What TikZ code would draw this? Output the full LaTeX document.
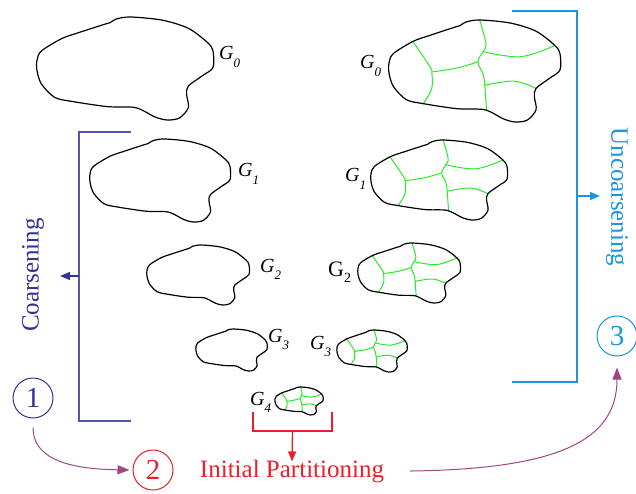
\documentclass[tikz,border=0pt]{standalone}
\usepackage{fontspec}
\setmainfont{Liberation Serif}
\usetikzlibrary{arrows.meta}
\definecolor{cblue}{RGB}{50,50,150}
\definecolor{cbline}{RGB}{85,85,170}
\definecolor{ccyan}{RGB}{25,150,220}
\definecolor{cred}{RGB}{237,30,40}
\definecolor{cpurp}{RGB}{160,70,130}
\definecolor{cgreen}{RGB}{40,235,40}
\tikzset{
  blobline/.style={black, line width=1.2pt, line join=round},
  partline/.style={cgreen, line width=1pt},
  bracket/.style={line width=1.3pt},
  tiparrow/.style={-{Triangle[length=10pt,width=8pt]}},
  parrow/.style={cpurp, line width=1pt, -{Triangle[length=12pt,width=9pt]}},
  glabel/.style={anchor=base west, inner sep=0pt},
  numcirc/.style={circle, draw, line width=1pt, minimum size=40pt, inner sep=0pt, font=\fontsize{29}{29}\selectfont},
  bigtext/.style={inner sep=0pt, font=\fontsize{25}{25}\selectfont}
}
\newcommand{\drawblob}[4]{%
\begin{scope}[shift={(#1,#2)},xscale=#3,yscale=#4]
\draw[blobline] plot[smooth cycle,tension=0.5] coordinates {
(0.0,0.42) (0.025,0.33) (0.14,0.21) (0.24,0.15) (0.385,0.07) (0.415,0.055)
(0.45,0.02) (0.53,0.0) (0.71,0.03) (0.86,0.11) (0.97,0.25) (1.0,0.33)
(1.0,0.49) (0.94,0.57) (0.86,0.67) (0.85,0.75) (0.86,0.88) (0.81,0.98)
(0.74,1.0) (0.67,0.97) (0.56,0.88) (0.40,0.87) (0.20,0.82) (0.10,0.78)
(0.025,0.65) (0.0,0.52)};
\end{scope}}
\newcommand{\drawparts}[4]{%
\begin{scope}[shift={(#1,#2)},xscale=#3,yscale=#4]
\draw[partline] plot[smooth,tension=0.6] coordinates {(0.53,0.0) (0.567,0.23) (0.55,0.31) (0.52,0.41) (0.55,0.53) (0.56,0.64) (0.57,0.88)};
\draw[partline] plot[smooth,tension=0.6] coordinates {(0.14,0.21) (0.24,0.46) (0.25,0.51) (0.25,0.67) (0.20,0.82)};
\draw[partline] plot[smooth,tension=0.6] coordinates {(0.25,0.51) (0.40,0.47) (0.52,0.41)};
\draw[partline] plot[smooth,tension=0.6] coordinates {(0.55,0.31) (0.77,0.36) (0.97,0.25)};
\draw[partline] plot[smooth,tension=0.6] coordinates {(0.56,0.64) (0.73,0.60) (0.86,0.67)};
\end{scope}}
\newcommand{\glab}[1]{{\fontsize{20}{20}\selectfont\itshape G\raisebox{-0.38em}{\fontsize{13}{13}\selectfont #1}}}
\newcommand{\gup}[1]{{\fontsize{22}{22}\selectfont G\raisebox{-0.3em}{\fontsize{14}{14}\selectfont #1}}}
\begin{document}
\begin{tikzpicture}[x=1pt,y=-1pt]
\useasboundingbox (0,0) rectangle (636,494);
% left column (coarsening)
\drawblob{37}{17}{176}{103}
\drawblob{90}{139}{140}{83}
\drawblob{147}{245}{102}{60}
\drawblob{196}{329}{71}{42}
% right column (uncoarsening)
\drawparts{389}{20}{171}{102}
\drawblob{389}{20}{171}{102}
\drawparts{371}{140}{136}{80}
\drawblob{371}{140}{136}{80}
\drawparts{358}{243}{102}{60}
\drawblob{358}{243}{102}{60}
\drawparts{337}{330}{70}{42}
\drawblob{337}{330}{70}{42}
\drawparts{275}{387}{48}{28}
\drawblob{275}{387}{48}{28}
% labels
\node[glabel] (l0) at (219,60) {\glab{0}};
\node[glabel] (l1) at (238,177) {\glab{1}};
\node[glabel] (l2) at (260,272) {\glab{2}};
\node[glabel] (l3) at (268,342) {\glab{3}};
\node[glabel] (r0) at (360,69) {\glab{0}};
\node[glabel] (r1) at (345,182) {\glab{1}};
\node[glabel] (r2) at (328,276) {\gup{2}};
\node[glabel] (r3) at (310,349) {\glab{3}};
\node[glabel] (r4) at (250,405) {\glab{4}};
% texts
\node[bigtext, text=cblue, rotate=90] (coarse) at (33,275) {Coarsening};
\node[bigtext, text=ccyan, rotate=-90] (uncoarse) at (617,197) {Uncoarsening};
\node[bigtext, text=cred, anchor=base] (init) at (292,477) {Initial Partitioning};
% circles
\node[numcirc, draw=cblue, text=cblue] (c1) at (33,398) {1};
\node[numcirc, draw=cred, text=cred] (c2) at (153,470) {2};
\node[numcirc, draw=ccyan, text=ccyan] (c3) at (617,336) {3};
% blue bracket
\coordinate (bt) at (131,132);
\coordinate (btc) at (79,132);
\coordinate (bbc) at (79,421);
\coordinate (bb) at (131,421);
\coordinate (bm) at (79,276);
\coordinate (bmt) at (60,276);
\draw[bracket, cbline] (bt) -- (btc) -- (bbc) -- (bb);
\draw[bracket, cblue, tiparrow] (bm) -- (bmt);
% cyan bracket
\coordinate (ut) at (512,11);
\coordinate (utc) at (577,11);
\coordinate (ubc) at (577,382);
\coordinate (ub) at (512,382);
\coordinate (um) at (577,196);
\coordinate (umt) at (600,196);
\draw[bracket, ccyan] (ut) -- (utc) -- (ubc) -- (ub);
\draw[bracket, ccyan, tiparrow] (um) -- (umt);
% red bracket
\coordinate (rl) at (253,412);
\coordinate (rlc) at (253,431);
\coordinate (rrc) at (332,431);
\coordinate (rr) at (332,412);
\coordinate (rm) at (292.5,431);
\draw[bracket, cred] (rl) -- (rlc) -- (rrc) -- (rr);
\draw[bracket, cred, tiparrow] (rm) -- ([yshift=-2pt]init.north);
% purple arrows
\draw[parrow, shorten <=9pt, shorten >=3pt] (c1.south) .. controls (33,455) and (60,469) .. (c2.west);
\draw[parrow, shorten >=11pt] ([xshift=26pt]init.east) .. controls (560,469) and (617,440) .. (c3.south);
\end{tikzpicture}
\end{document}
